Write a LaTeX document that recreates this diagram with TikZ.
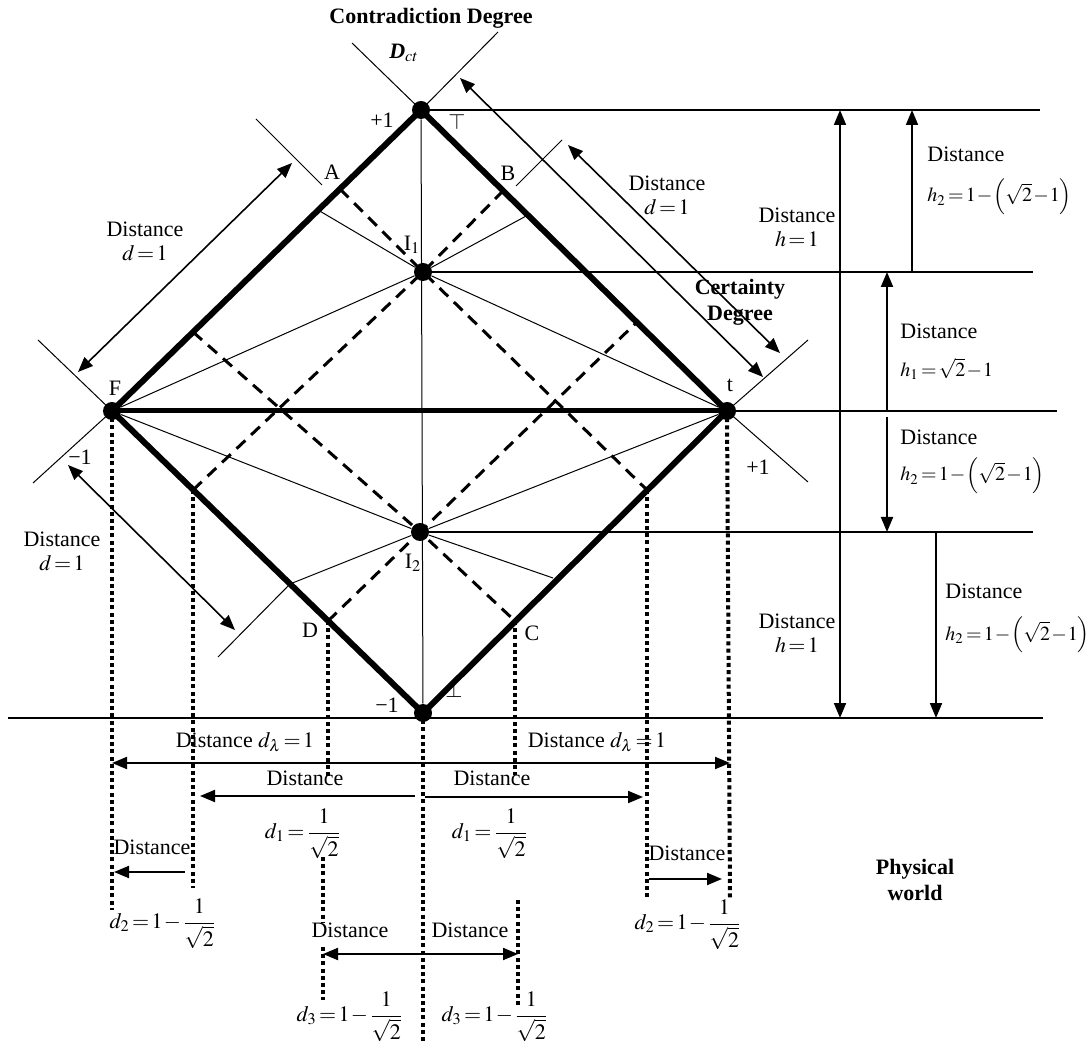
\documentclass[tikz,border=0pt]{standalone}
\usepackage{mathptmx}
\usepackage{fontspec}
\setmainfont{Liberation Serif}
\usetikzlibrary{arrows.meta, positioning}
\tikzstyle{dot} = [circle, fill=black, inner sep=0pt, minimum size=9pt]
\tikzstyle{side} = [line width=3pt, line cap=round]
\tikzstyle{axisline} = [line width=0.5pt]
\tikzstyle{guide} = [line width=1pt]
\tikzstyle{dashline} = [line width=1.5pt, dash pattern=on 6pt off 4pt]
\tikzstyle{dotline} = [line width=2pt, dash pattern=on 2pt off 1.6pt]
\tikzstyle{arrow} = [line width=1pt, -{Triangle[length=7.5pt, width=6pt]}]
\tikzstyle{darrow} = [line width=1pt, {Triangle[length=7.5pt, width=6pt]}-{Triangle[length=7.5pt, width=6pt]}]
\tikzstyle{lbl} = [font=\fontsize{11}{12}\selectfont, inner sep=0pt, align=center]
\tikzstyle{frm} = [font=\fontsize{10}{12}\selectfont, inner sep=0pt, anchor=west]
\tikzstyle{bold} = [font=\fontsize{11}{13}\selectfont\bfseries, inner sep=0pt, align=center]

\begin{document}
\thickmuskip=2mu \medmuskip=1mu
\begin{tikzpicture}[x=0.5pt, y=-0.5pt]
        \useasboundingbox (0,0) rectangle (1087,1042);

        % Corner points of the square
        \node (T) [dot] at (421,110) {};
        \node (F) [dot] at (112,411) {};
        \node (t) [dot] at (727,411) {};
        \node (Bot) [dot] at (423,713) {};
        \node (I1) [dot] at (423,272) {};
        \node (I2) [dot] at (420,532) {};

        % Points on the sides
        \coordinate (A) at (340,189);
        \coordinate (B) at (503,191);
        \coordinate (D) at (328,621);
        \coordinate (C) at (515,621);
        \coordinate (FTlow) at (193,332);
        \coordinate (Ttlow) at (637,322);
        \coordinate (FBup) at (193,490);
        \coordinate (tBup) at (647,490);
        \coordinate (FTmid) at (318,210);
        \coordinate (Ttmid) at (528,215);
        \coordinate (FBmid) at (290,584);
        \coordinate (tBmid) at (553,578);

        % Thin lines from I1 and I2
        \draw [axisline] (F) -- (I1) -- (t);
        \draw [axisline] (F) -- (I2) -- (t);
        \draw [axisline] (FTmid) -- (I1) -- (Ttmid);
        \draw [axisline] (FBmid) -- (I2) -- (tBmid);
        \draw [axisline] (T) -- (Bot);

        % Dashed lines
        \draw [dashline] (A) -- (I1.center) -- (B);
        \draw [dashline] (FBup) -- (I1.center) -- (tBup);
        \draw [dashline] (D) -- (I2.center) -- (C);
        \draw [dashline] (FTlow) -- (I2.center) -- (Ttlow);

        % Sides of the square
        \draw [side] (F.center) -- (T.center) -- (t.center) -- (Bot.center) -- cycle;
        \draw [line width=2.5pt] (F.center) -- (t.center);

        % Extension lines
        \draw [axisline] (352,43) -- (T.center) -- (498,32);
        \draw [axisline] (38,340) -- (F.center) -- (33,483);
        \draw [axisline] (808,340) -- (t.center) -- (808,482);
        \draw [axisline] (322,185) -- (256,119);
        \draw [axisline] (516,186) -- (562,140);
        \draw [axisline] (FBmid) -- (218,657);

        % Distance d = 1 along the sides
        \draw [darrow, line width=0.8pt] (78,372) -- (292,163);
        \draw [darrow, line width=0.8pt] (68,465) -- (235,630);
        \draw [darrow, line width=0.8pt] (460,78) -- (763,377);
        \draw [darrow, line width=0.8pt] (568,145) -- (780,353);

        % Level lines on the right
        \coordinate (topR) at (1040,110);
        \coordinate (i1R) at (1033,272);
        \coordinate (tR) at (1057,411);
        \coordinate (i2R) at (1033,532);
        \draw [guide] (T.center) -- (topR);
        \draw [guide] (I1.center) -- (i1R);
        \draw [guide] (t.center) -- (tR);
        \draw [guide] (I2.center) -- (i2R);
        \draw [guide] (8,718) -- (1043,718);

        % Vertical distances
        \draw [darrow] (840,110) -- (840,718);
        \draw [arrow] (912,272) -- (912,110);
        \draw [arrow] (887,411) -- (887,272);
        \draw [arrow] (887,417) -- (887,532);
        \draw [arrow] (936,532) -- (936,718);

        % Dotted projections
        \draw [dotline] (F.center) -- (112,910);
        \draw [dotline] (FBup) -- (193,888);
        \draw [dotline] (D) -- (328,777);
        \draw [dotline] (323,857) -- (323,922);
        \draw [dotline] (323,947) -- (323,1000);
        \draw [dotline] (Bot.center) -- (423,1042);
        \draw [dotline] (C) -- (515,775);
        \draw [dotline] (518,900) -- (518,1005);
        \draw [dotline] (tBup) -- (647,898);
        \draw [dotline] (t.center) -- (730,898);

        % Horizontal distances
        \draw [darrow] (112,763) -- (730,763);
        \draw [arrow] (415,796) -- (200,796);
        \draw [arrow] (425,797) -- (643,797);
        \draw [arrow] (185,872) -- (114,872);
        \draw [arrow] (649,879) -- (722,879);
        \draw [darrow] (323,954) -- (518,954);

        % Labels of the points
        \node (contra) [bold] at (431,18) {Contradiction Degree};
        \node (dct) [lbl] at (404,53) {\textbf{\textit{D}}$_{ct}$};
        \node (plusT) [lbl] at (382,120) {+1};
        \node (topT) [lbl] at (457,122) {$\top$};
        \node (lblA) [lbl] at (332,172) {A};
        \node (lblB) [lbl] at (508,173) {B};
        \node (lblI1) [lbl] at (412,245) {I$_1$};
        \node (lblF) [lbl] at (115,388) {F};
        \node (minF) [lbl] at (80,457) {−1};
        \node (lblD) [lbl] at (310,630) {D};
        \node (lblI2) [lbl] at (413,563) {I$_2$};
        \node (minB) [lbl] at (387,705) {−1};
        \node (botB) [lbl] at (454,690) {$\bot$};
        \node (lblC) [lbl] at (532,633) {C};
        \node (lblt) [lbl] at (730,385) {t};
        \node (plust) [lbl] at (758,467) {+1};
        \node (certain) [bold] at (740,302) {Certainty\\Degree};

        % Distance labels
        \node (dUL) [lbl] at (145,241) {Distance\\$d=1$};
        \node (dLL) [lbl] at (62,551) {Distance\\$d=1$};
        \node (dUR) [lbl] at (667,195) {Distance\\$d=1$};
        \node (hUp) [lbl] at (797,227) {Distance\\$h=1$};
        \node (hLow) [lbl] at (797,633) {Distance\\$h=1$};
        \node (h2a) [lbl, anchor=west] at (927,154) {Distance};
        \node (h2aF) [frm] at (927,197) {$h_2=1-\left(\sqrt{2}-1\right)$};
        \node (h1) [lbl, anchor=west] at (900,331) {Distance};
        \node (h1F) [frm] at (900,369) {$h_1=\sqrt{2}-1$};
        \node (h2b) [lbl, anchor=west] at (900,437) {Distance};
        \node (h2bF) [frm] at (900,476) {$h_2=1-\left(\sqrt{2}-1\right)$};
        \node (h2c) [lbl, anchor=west] at (945,591) {Distance};
        \node (h2cF) [frm] at (945,635) {$h_2=1-\left(\sqrt{2}-1\right)$};

        % Bottom labels
        \node (dlL) [lbl] at (245,742) {Distance $d_\lambda=1$};
        \node (dlR) [lbl] at (597,742) {Distance $d_\lambda=1$};
        \node (d1L) [lbl] at (305,778) {Distance};
        \node (d1R) [lbl] at (492,778) {Distance};
        \node (d1LF) [lbl] at (303,834) {$\displaystyle d_1=\frac{1}{\sqrt{2}}$};
        \node (d1RF) [lbl] at (490,834) {$\displaystyle d_1=\frac{1}{\sqrt{2}}$};
        \node (d2L) [lbl] at (152,847) {Distance};
        \node (d2R) [lbl] at (687,853) {Distance};
        \node (d2LF) [lbl] at (163,924) {$\displaystyle d_2=1-\frac{1}{\sqrt{2}}$};
        \node (d2RF) [lbl] at (688,925) {$\displaystyle d_2=1-\frac{1}{\sqrt{2}}$};
        \node (d3L) [lbl] at (350,930) {Distance};
        \node (d3R) [lbl] at (470,930) {Distance};
        \node (d3LF) [lbl] at (350,1017) {$\displaystyle d_3=1-\frac{1}{\sqrt{2}}$};
        \node (d3RF) [lbl] at (495,1017) {$\displaystyle d_3=1-\frac{1}{\sqrt{2}}$};
        \node (phys) [bold] at (915,880) {Physical\\world};
\end{tikzpicture}
\end{document}
